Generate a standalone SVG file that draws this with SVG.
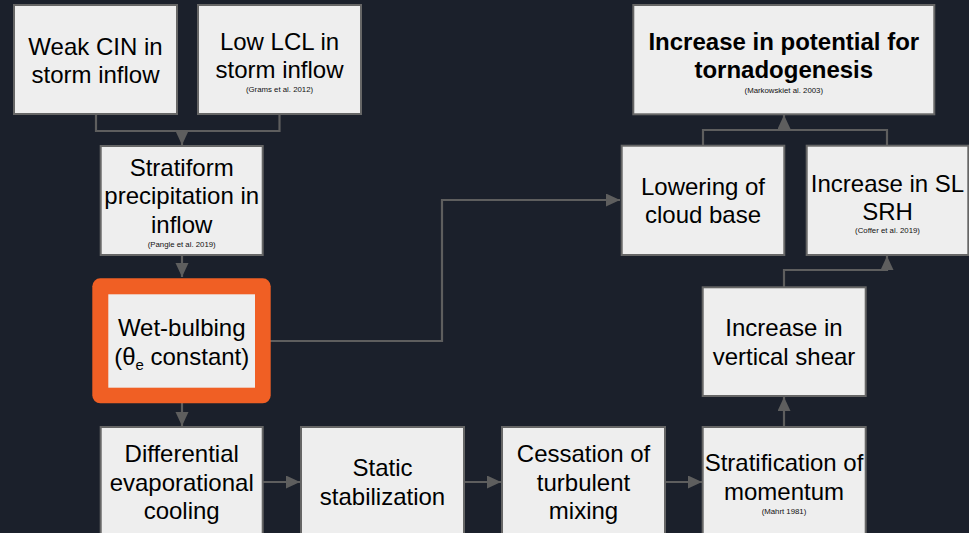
<svg xmlns="http://www.w3.org/2000/svg" width="969" height="533" viewBox="0 0 969 533">
<style>
.box{fill:#eeeeee;stroke:#666666;stroke-width:2}
.t{font-family:"Liberation Sans",Arial,sans-serif;font-size:24px;fill:#000;text-anchor:middle}
.b{font-weight:bold}
.c{font-family:"Liberation Sans",Arial,sans-serif;font-size:7.8px;fill:#111;text-anchor:middle}
.ln{fill:none;stroke:#5e5e5e;stroke-width:2.2}
</style>
<defs>
<marker id="ah" markerUnits="userSpaceOnUse" markerWidth="15" markerHeight="14" refX="14" refY="6.5" orient="auto">
<path d="M0,0 L14,6.5 L0,13 z" fill="#5e5e5e"/>
</marker>
</defs>
<rect x="0" y="0" width="969" height="533" fill="#1b202b"/>

<g id="connectors">
<path class="ln" d="M96,114 V131 H182 V145" marker-end="url(#ah)"/>
<path class="ln" d="M279.5,114 V131 H182"/>
<path class="ln" d="M182,255 V277" marker-end="url(#ah)"/>
<path class="ln" d="M182,403 V426" marker-end="url(#ah)"/>
<path class="ln" d="M263,482 H300" marker-end="url(#ah)"/>
<path class="ln" d="M464,482 H501" marker-end="url(#ah)"/>
<path class="ln" d="M665,482 H702" marker-end="url(#ah)"/>
<path class="ln" d="M784,427 V397" marker-end="url(#ah)"/>
<path class="ln" d="M784,287 V270 H887 V256" marker-end="url(#ah)"/>
<path class="ln" d="M703,146 V130 H784 V115" marker-end="url(#ah)"/>
<path class="ln" d="M887,146 V130 H784"/>
<path class="ln" d="M270,341 H442 V200 H620" marker-end="url(#ah)"/>
</g>

<g id="weak-cin">
<rect class="box" x="14" y="5" width="163" height="109"/>
<text class="t" x="95.5" y="55">Weak CIN in</text>
<text class="t" x="95.5" y="83">storm inflow</text>
</g>

<g id="low-lcl">
<rect class="box" x="198" y="5" width="163" height="109"/>
<text class="t" x="279.5" y="50">Low LCL in</text>
<text class="t" x="279.5" y="78">storm inflow</text>
<text class="c" x="279.5" y="91.5">(Grams et al. 2012)</text>
</g>

<g id="stratiform">
<rect class="box" x="100.7" y="146" width="162" height="109"/>
<text class="t" x="181.7" y="176">Stratiform</text>
<text class="t" x="181.7" y="204">precipitation in</text>
<text class="t" x="181.7" y="233">inflow</text>
<text class="c" x="181.7" y="246.5">(Pangle et al. 2019)</text>
</g>

<g id="wet-bulbing">
<rect x="92.3" y="278.3" width="178.4" height="125" rx="8" fill="#f05f24"/>
<rect x="108.3" y="294.3" width="146.7" height="93.4" fill="#eeeeee"/>
<text class="t" x="181.7" y="336">Wet-bulbing</text>
<text class="t" x="181.7" y="365">(θ<tspan font-size="15" dy="5">e</tspan><tspan dy="-5"> constant)</tspan></text>
</g>

<g id="differential">
<rect class="box" x="100.7" y="427" width="162" height="120"/>
<text class="t" x="181.7" y="462">Differential</text>
<text class="t" x="181.7" y="490.5">evaporational</text>
<text class="t" x="181.7" y="519">cooling</text>
</g>

<g id="static">
<rect class="box" x="301" y="427" width="163" height="120"/>
<text class="t" x="382.5" y="476">Static</text>
<text class="t" x="382.5" y="505">stabilization</text>
</g>

<g id="cessation">
<rect class="box" x="502" y="427" width="163" height="120"/>
<text class="t" x="583.5" y="462">Cessation of</text>
<text class="t" x="583.5" y="490.5">turbulent</text>
<text class="t" x="583.5" y="519">mixing</text>
</g>

<g id="stratification">
<rect class="box" x="702.7" y="427" width="163" height="120"/>
<text class="t" x="784" y="471">Stratification of</text>
<text class="t" x="784" y="500">momentum</text>
<text class="c" x="784" y="513.5">(Mahrt 1981)</text>
</g>

<g id="vertical-shear">
<rect class="box" x="702.7" y="287.3" width="163" height="108.7"/>
<text class="t" x="784" y="336">Increase in</text>
<text class="t" x="784" y="365">vertical shear</text>
</g>

<g id="lowering">
<rect class="box" x="621.7" y="145.7" width="162.6" height="109.3"/>
<text class="t" x="703" y="195">Lowering of</text>
<text class="t" x="703" y="223.3">cloud base</text>
</g>

<g id="srh">
<rect class="box" x="806.7" y="145.7" width="161.6" height="109.3"/>
<text class="t" x="887.5" y="192.3">Increase in SL</text>
<text class="t" x="887.5" y="220">SRH</text>
<text class="c" x="887.5" y="233.3">(Coffer et al. 2019)</text>
</g>

<g id="tornadogenesis">
<rect class="box" x="633.3" y="5" width="301" height="109.3"/>
<text class="t b" x="783.8" y="50">Increase in potential for</text>
<text class="t b" x="783.8" y="78">tornadogenesis</text>
<text class="c" x="783.8" y="92.5">(Markowskiet al. 2003)</text>
</g>
</svg>
